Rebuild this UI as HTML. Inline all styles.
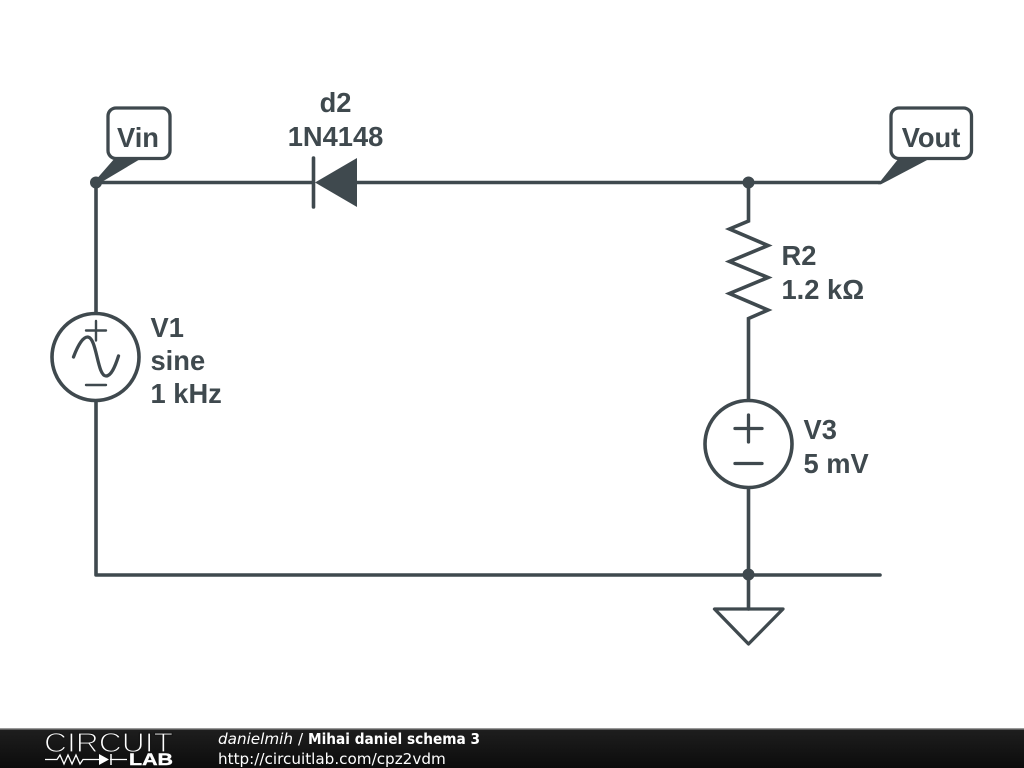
<!DOCTYPE html>
<html><head><meta charset="utf-8"><style>
html,body{margin:0;padding:0;background:#fff;width:1024px;height:768px;overflow:hidden}
svg{display:block}
.l{font-family:"Liberation Sans",sans-serif;font-weight:700;font-size:27.3px;fill:#3f494e}
.f{font-family:"DejaVu Sans",sans-serif;font-size:15.2px;fill:#fff}
</style></head><body>
<svg width="1024" height="768" viewBox="0 0 1024 768" xmlns="http://www.w3.org/2000/svg">
<defs><linearGradient id="g" x1="0" y1="0" x2="0" y2="1"><stop offset="0" stop-color="#1e1e1e"/><stop offset="1" stop-color="#0c0c0c"/></linearGradient></defs>
<rect width="1024" height="768" fill="#fff"/>
<g fill="none" stroke="#3f494e" stroke-width="3.6" stroke-linecap="round" stroke-linejoin="round">
<path d="M96 182.500H313M357 182.500H880"/>
<path d="M96 182.500V313M96 401V575H880"/>
<path d="M313.500 158V207"/>
<path stroke-linejoin="miter" d="M748.500 182.500V221L729.500 229L768 245.500L729.500 261.500L768 277.500L729.500 293.500L768 310L748.500 318.500V400M748.500 488V609"/>
<circle cx="95.500" cy="357" r="43.500"/>
<circle cx="748.500" cy="444" r="43.500"/>
<path d="M86 330.500H106M96 321V340.500M86 385H106" stroke-width="2.400"/>
<path d="M73.500 357C78 345 83 337 87.500 337C97 337 97 376 106 376C111 376 115 367 118.500 356" stroke-width="3.300"/>
<path d="M735 428.500H762M748.500 415V442M735 463.500H762" stroke-width="3.300"/>
<path d="M714.500 609H783L748.500 644Z" stroke-width="3.300"/>
<rect x="108" y="108" width="62" height="50.500" rx="8" stroke-width="3.300"/>
<rect x="891" y="108" width="80.500" height="50.500" rx="8" stroke-width="3.300"/>
</g>
<g fill="#3f494e">
<path d="M357 158V207L315 182.500Z"/>
<circle cx="96" cy="182.500" r="6"/><circle cx="748.500" cy="182.500" r="6"/><circle cx="748.500" cy="574.500" r="6"/>
<path d="M94 182L115 158H142L100 183Z"/>
<path d="M878 184.300L899 158H931L881 184.300Z"/>
</g>
<text class="l" x="335.500" y="112" text-anchor="middle">d2</text>
<text class="l" x="335.500" y="146" text-anchor="middle">1N4148</text>
<text class="l" x="138" y="147" text-anchor="middle">Vin</text>
<text class="l" x="931" y="147" text-anchor="middle">Vout</text>
<text class="l" x="781.500" y="265">R2</text>
<text class="l" x="781.500" y="299">1.2 kΩ</text>
<text class="l" x="150.500" y="337">V1</text>
<text class="l" x="150.500" y="370">sine</text>
<text class="l" x="150.500" y="403">1 kHz</text>
<text class="l" x="803.500" y="439">V3</text>
<text class="l" x="803.500" y="473">5 mV</text>
<rect x="0" y="728" width="1024" height="1.500" fill="#999"/>
<rect x="0" y="729.500" width="1024" height="38.500" fill="url(#g)"/>
<text x="44" y="752" font-family="Liberation Sans,sans-serif" font-size="28" fill="#fff" stroke="#161616" stroke-width="1.200" textLength="129" lengthAdjust="spacingAndGlyphs">CIRCUIT</text>
<text x="129" y="765" font-family="Liberation Sans,sans-serif" font-weight="700" font-size="17" fill="#fff" stroke="#fff" stroke-width=".4" textLength="44" lengthAdjust="spacingAndGlyphs">LAB</text>
<path d="M45 759.500H57L60 755L64 764L68 755L72 764L76 755L80 764L83 759.500H100M110 759.500H127" fill="none" stroke="#fff" stroke-width="1.300"/>
<path d="M99 754V765L109 759.500Z" fill="#fff"/>
<path d="M111 754V765" stroke="#fff" stroke-width="1.500"/>
<text class="f" x="218" y="744" font-style="italic">danielmih</text>
<text class="f" x="298" y="744">/</text>
<text class="f" x="308" y="744" font-weight="700" textLength="172" lengthAdjust="spacingAndGlyphs">Mihai daniel schema 3</text>
<text class="f" x="218" y="764">http://circuitlab.com/cpz2vdm</text>
</svg>
</body></html>
